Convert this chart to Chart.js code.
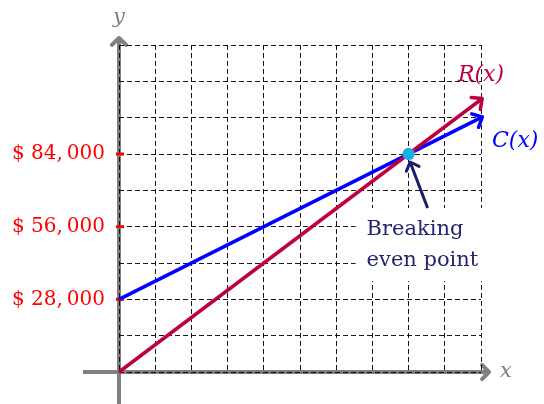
<!DOCTYPE html>
<html><head><meta charset="utf-8">
<script src="https://cdn.jsdelivr.net/npm/chart.js@4"></script>
<style>html,body{margin:0;padding:0;background:#fff}canvas{display:block}</style>
</head><body>
<canvas id="c" width="544" height="404"></canvas>
<script>
// ---- data ----
const xValues = [0, 10];
const costValues = [28000, 98000];      // C(x)
const revenueValues = [0, 105000];      // R(x)
const breakEvenX = [8];
const breakEvenY = [84000];
const yTickValues = [28000, 56000, 84000];
const yTickLabels = ['$ 28,\u2009000', '$ 56,\u2009000', '$ 84,\u2009000'];
const seriesNames = ['C(x)', 'R(x)'];
const axisNames = ['x', 'y'];
const annotationLines = ['Breaking', 'even point'];

const SERIF = '"DejaVu Serif", "Liberation Serif", serif';
const GRAY = '#808080';
const BLUE = '#0000ff';
const PURPLE = '#bf0040';
const NAVY = '#1c1c6b';
const GRID = 'rgba(0,0,0,0.9)';

function chevron(ctx, x, y, ang, len, spread, color, width) {
  ctx.save();
  ctx.strokeStyle = color; ctx.lineWidth = width;
  ctx.lineCap = 'round'; ctx.lineJoin = 'round';
  ctx.beginPath();
  ctx.moveTo(x - len * Math.cos(ang - spread), y - len * Math.sin(ang - spread));
  ctx.lineTo(x, y);
  ctx.lineTo(x - len * Math.cos(ang + spread), y - len * Math.sin(ang + spread));
  ctx.stroke();
  ctx.restore();
}

const decor = {
  id: 'decor',
  beforeDraw(chart) {
    const ctx = chart.ctx, xs = chart.scales.x, ys = chart.scales.y, ca = chart.chartArea;
    const ox = xs.getPixelForValue(0), oy = ys.getPixelForValue(0);
    ctx.save();
    ctx.strokeStyle = GRAY; ctx.lineWidth = 4; ctx.lineCap = 'butt';
    ctx.beginPath();
    ctx.moveTo(ox - 36, oy); ctx.lineTo(ca.right + 7, oy);
    ctx.moveTo(ox, chart.height); ctx.lineTo(ox, ca.top - 6);
    ctx.stroke();
    ctx.restore();
    chevron(ctx, ca.right + 8, oy, 0, 10, 0.8, GRAY, 4);
    chevron(ctx, ox, ca.top - 7, -Math.PI / 2, 10, 0.8, GRAY, 4);
  },
  beforeDatasetsDraw(chart) {
    const ctx = chart.ctx, xs = chart.scales.x, ys = chart.scales.y;
    const ox = xs.getPixelForValue(0);
    ctx.save();
    ctx.fillStyle = '#ff0000';
    yTickValues.forEach(v => {
      const py = ys.getPixelForValue(v);
      ctx.fillRect(ox - 3, py - 1.5, 8, 3);
    });
    ctx.restore();
  },
  afterDatasetsDraw(chart) {
    const ctx = chart.ctx;
    chart.data.datasets.forEach((ds, i) => {
      if (!ds.arrow) return;
      const pts = chart.getDatasetMeta(i).data;
      const a = pts[pts.length - 2], b = pts[pts.length - 1];
      const ang = Math.atan2(b.y - a.y, b.x - a.x);
      chevron(ctx, b.x + 1.5 * Math.cos(ang), b.y + 1.5 * Math.sin(ang), ang, 11, 0.75, ds.borderColor, 3.5);
    });
    const metaC = chart.getDatasetMeta(2).data, metaR = chart.getDatasetMeta(1).data;
    const endC = metaC[metaC.length - 1], endR = metaR[metaR.length - 1];
    ctx.save();
    ctx.font = 'italic 22px ' + SERIF;
    ctx.textBaseline = 'alphabetic';
    ctx.fillStyle = PURPLE; ctx.textAlign = 'center';
    ctx.fillText(seriesNames[1], endR.x, endR.y - 19);
    ctx.fillStyle = BLUE; ctx.textAlign = 'left';
    ctx.fillText(seriesNames[0], endC.x + 11, endC.y + 29);
    ctx.restore();

    const bp = chart.getDatasetMeta(0).data[0];
    ctx.save();
    ctx.fillStyle = '#ffffff';
    ctx.fillRect(bp.x - 53, bp.y + 54, 130, 73);
    ctx.restore();
    ctx.save();
    ctx.strokeStyle = NAVY; ctx.lineWidth = 3; ctx.lineCap = 'butt';
    const sx = bp.x + 19, sy = bp.y + 54, tx = bp.x + 1.5, ty = bp.y + 8;
    ctx.beginPath(); ctx.moveTo(sx, sy); ctx.lineTo(tx, ty); ctx.stroke();
    ctx.restore();
    chevron(ctx, tx, ty, Math.atan2(ty - sy, tx - sx), 10, 0.75, NAVY, 3);
    ctx.save();
    ctx.fillStyle = '#24246f';
    ctx.font = '21px ' + SERIF;
    ctx.textAlign = 'left'; ctx.textBaseline = 'alphabetic';
    ctx.fillText(annotationLines[0], bp.x - 42, bp.y + 81);
    ctx.fillText(annotationLines[1], bp.x - 42, bp.y + 112);
    ctx.restore();
    ctx.save();
    ctx.fillStyle = chart.data.datasets[0].backgroundColor;
    ctx.beginPath(); ctx.arc(bp.x, bp.y, 6, 0, Math.PI * 2); ctx.fill();
    ctx.restore();
  },
  afterDraw(chart) {
    const ctx = chart.ctx, xs = chart.scales.x, ys = chart.scales.y, ca = chart.chartArea;
    const ox = xs.getPixelForValue(0), oy = ys.getPixelForValue(0);
    ctx.save();
    ctx.fillStyle = GRAY;
    ctx.font = 'italic 21px ' + SERIF;
    ctx.textBaseline = 'alphabetic';
    ctx.textAlign = 'left';
    ctx.fillText(axisNames[0], ca.right + 19, oy + 5);
    ctx.textAlign = 'center';
    ctx.fillText(axisNames[1], ox, 23);
    ctx.restore();
  }
};

const toPts = (xsArr, ysArr) => xsArr.map((x, i) => ({ x, y: ysArr[i] }));

new Chart(document.getElementById('c'), {
  type: 'line',
  data: {
    datasets: [
      {
        label: 'Breaking even point',
        data: toPts(breakEvenX, breakEvenY),
        showLine: false, pointRadius: 6, pointHoverRadius: 6,
        backgroundColor: '#1aaee6', borderColor: '#1aaee6', borderWidth: 0,
        order: 0, clip: false
      },
      {
        label: seriesNames[1],
        data: toPts(xValues, revenueValues),
        borderColor: PURPLE, borderWidth: 3.5, pointRadius: 0,
        borderCapStyle: 'butt', order: 1, clip: false, arrow: true
      },
      {
        label: seriesNames[0],
        data: toPts(xValues, costValues),
        borderColor: BLUE, borderWidth: 3.5, pointRadius: 0,
        borderCapStyle: 'butt', order: 2, clip: false, arrow: true
      }
    ]
  },
  options: {
    responsive: false,
    animation: false,
    events: [],
    layout: { padding: { left: 0, right: 63, top: 45, bottom: 0 } },
    plugins: { legend: { display: false }, tooltip: { enabled: false } },
    scales: {
      x: {
        type: 'linear', min: 0, max: 10,
        ticks: { display: false, stepSize: 1 },
        grid: { color: GRID, lineWidth: 1, drawTicks: false },
        border: { display: false, dash: [5, 3] },
        afterFit(s) { s.height = 32; }
      },
      y: {
        type: 'linear', min: 0, max: 126000,
        ticks: {
          stepSize: 14000, autoSkip: false, padding: 14, color: '#ff0000',
          font: { family: SERIF, size: 20 },
          callback: v => { const k = yTickValues.indexOf(v); return k >= 0 ? yTickLabels[k] : ''; }
        },
        grid: { color: GRID, lineWidth: 1, drawTicks: false },
        border: { display: false, dash: [5, 3] },
        afterFit(s) { s.width = 119; }
      }
    }
  },
  plugins: [decor]
});
</script>
</body></html>
